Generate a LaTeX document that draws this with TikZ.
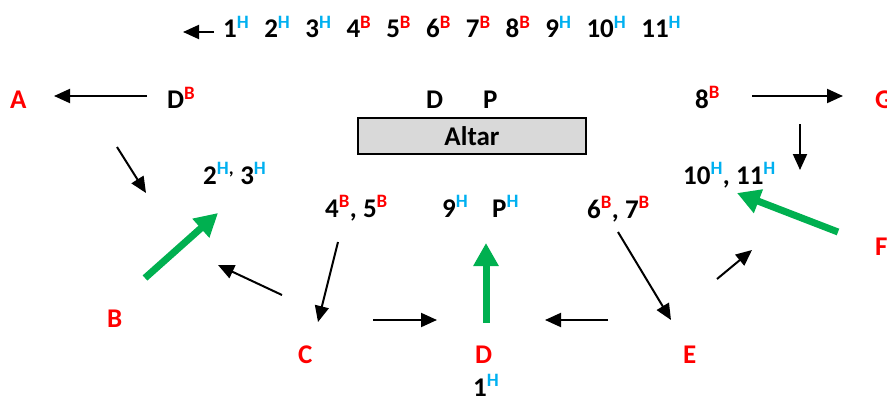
\documentclass[tikz,border=0pt]{standalone}
\usepackage{fontspec}
\setmainfont{Carlito}
\usetikzlibrary{arrows.meta,positioning}
\definecolor{colH}{RGB}{0,176,240}
\definecolor{colB}{RGB}{255,0,0}
\definecolor{leadgreen}{RGB}{0,176,80}
\definecolor{altargray}{RGB}{217,217,217}
\newcommand{\lab}[2]{#1\textsuperscript{\textcolor{col#2}{#2}}}

\begin{document}
\begin{tikzpicture}[x=1pt,y=-1pt,inner sep=0pt,
  every node/.style={font=\fontsize{27}{30}\selectfont\bfseries}]
\tikzstyle{place}=[text=colB]
\tikzstyle{walk}=[line width=2pt,-{Triangle[length=16pt,width=14pt]}]
\tikzstyle{lead}=[draw=leadgreen,line width=7pt,-{Triangle[length=23pt,width=24pt]}]
\useasboundingbox (0,0) rectangle (887,396);

% order of the procession
\node[anchor=base west] (t1) at (223,38) {\lab{1}{H}};
\foreach \n/\s [remember=\n as \p (initially 1)] in {2/H,3/H,4/B,5/B,6/B,7/B,8/B,9/H,10/H,11/H}
  \node[right=14.6pt of t\p] (t\n) {\lab{\n}{\s}};

% places
\node[place,anchor=base west] (A) at (10,109) {A};
\node[place,anchor=base west] (B) at (107,327) {B};
\node[place,anchor=base west] (C) at (298,363) {C};
\node[place,anchor=base west] (D) at (475,363) {D};
\node[place,anchor=base west] (E) at (683,363) {E};
\node[place,anchor=base west] (F) at (875,255) {F};
\node[place,anchor=base west] (G) at (875,108) {G};

% altar
\node[draw,line width=1.5pt,fill=altargray,minimum width=228pt,minimum height=36pt] (altar) at (472,136) {Altar};
\node[anchor=base west] (dA) at (426,108) {D};
\node[anchor=base west] (pA) at (483,108) {P};

% who stands where
\node[anchor=base west] (dB) at (167,109) {\lab{D}{B}};
\node[anchor=base west] (h23) at (203,184) {2\textsuperscript{\textcolor{colH}{H},} \lab{3}{H}};
\node[anchor=base west] (b45) at (325,217) {\lab{4}{B}, \lab{5}{B}};
\node[anchor=base west] (h9) at (442,217) {\lab{9}{H}};
\node[anchor=base west] (hP) at (492,217) {\lab{P}{H}};
\node[anchor=base west] (b67) at (587,218) {\lab{6}{B}, \lab{7}{B}};
\node[anchor=base west] (b8) at (695,108) {\lab{8}{B}};
\node[anchor=base west] (h1011) at (683,184) {\lab{10}{H}, \lab{11}{H}};
\node[anchor=base west] (h1) at (473,396) {\lab{1}{H}};

% arrow ends
\coordinate (back1) at (214,32);  \coordinate (back2) at (183,32);
\coordinate (toA1) at (147,96);   \coordinate (toA2) at (54,96);
\coordinate (fromA1) at (117,147); \coordinate (fromA2) at (146,193);
\coordinate (fromB1) at (145,278); \coordinate (fromB2) at (218,213);
\coordinate (fromC1) at (282,295); \coordinate (fromC2) at (218,265);
\coordinate (toC1) at (338,242);  \coordinate (toC2) at (318,322);
\coordinate (CD1) at (373,320);   \coordinate (CD2) at (437,320);
\coordinate (fromD1) at (486,323); \coordinate (fromD2) at (486,243);
\coordinate (ED1) at (608,320);   \coordinate (ED2) at (545,320);
\coordinate (toE1) at (618,232);  \coordinate (toE2) at (671,320);
\coordinate (EF1) at (717,279);   \coordinate (EF2) at (752,250);
\coordinate (fromF1) at (838,232); \coordinate (fromF2) at (737,193);
\coordinate (toG1) at (752,96);   \coordinate (toG2) at (843,96);
\coordinate (fromG1) at (800,124); \coordinate (fromG2) at (800,170);

\draw[walk] (back1) -- (back2);
\draw[walk] (toA1) -- (toA2);
\draw[walk] (fromA1) -- (fromA2);
\draw[walk] (fromC1) -- (fromC2);
\draw[walk] (toC1) -- (toC2);
\draw[walk] (CD1) -- (CD2);
\draw[walk] (ED1) -- (ED2);
\draw[walk] (toE1) -- (toE2);
\draw[walk] (EF1) -- (EF2);
\draw[walk] (toG1) -- (toG2);
\draw[walk] (fromG1) -- (fromG2);
\draw[lead] (fromB1) -- (fromB2);
\draw[lead] (fromD1) -- (fromD2);
\draw[lead] (fromF1) -- (fromF2);
\end{tikzpicture}
\end{document}
